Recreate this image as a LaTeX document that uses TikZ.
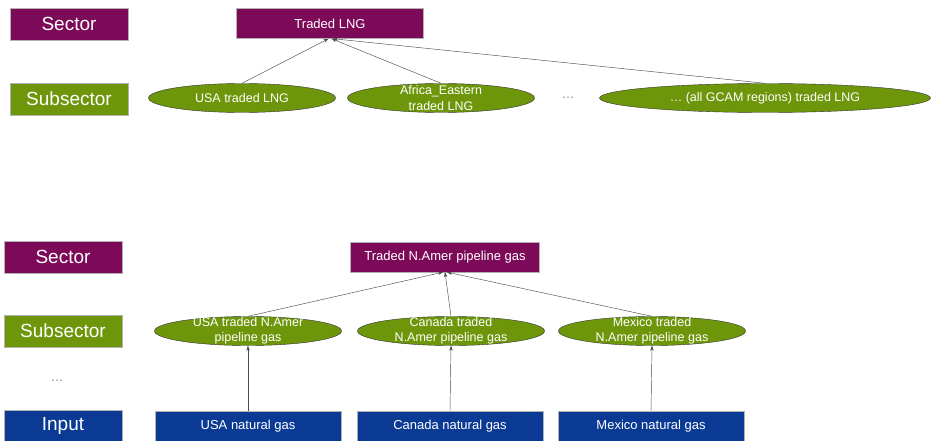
\documentclass[tikz,border=0pt]{standalone}
\usepackage{fontspec}
\setmainfont{Liberation Sans}
\usetikzlibrary{shapes.geometric, arrows.meta, positioning}

\definecolor{sectorcol}{HTML}{7D0A58}
\definecolor{subcol}{HTML}{6E960A}
\definecolor{inputcol}{HTML}{0B3A94}

\tikzset{
  rowlabel/.style={draw=gray!60, rectangle, text=white, minimum width=118pt, minimum height=32pt, inner sep=0pt, font=\fontsize{19}{22}\selectfont},
  sectorbox/.style={draw=gray!60, rectangle, fill=sectorcol, text=white, minimum height=30pt, inner sep=0pt, font=\fontsize{13}{16}\selectfont},
  subell/.style={draw=black!80, ellipse, fill=subcol, text=white, minimum width=187pt, minimum height=29pt, inner sep=0pt, font=\fontsize{12.5}{15.5}\selectfont},
  inputbox/.style={draw=gray!60, rectangle, fill=inputcol, text=white, minimum width=186pt, minimum height=30pt, inner sep=0pt, font=\fontsize{13}{16}\selectfont},
  intext/.style={text=white, align=center, inner sep=0pt, font=\fontsize{12.5}{15.5}\selectfont},
  flow/.style={-{Stealth[length=5pt, width=3.5pt]}, draw=black!70, line width=0.45pt}
}

\begin{document}
\begin{tikzpicture}[x=1pt, y=-1pt]
  \useasboundingbox (0,0) rectangle (931,441);

  % LNG trade
  \node [rowlabel, fill=sectorcol] (lsec) at (69,24) {Sector};
  \node [rowlabel, fill=subcol] (lsub) at (69,99) {Subsector};
  \node [sectorbox, minimum width=187pt] (lng) at (330,23.5) {Traded LNG};
  \node [subell] (usaL) at (242,98) {USA traded LNG};
  \node [subell, label={[intext]center:Africa\_Eastern\\traded LNG}] (afrL) at (441,98) {};
  \node [text=gray, font=\fontsize{13}{16}\selectfont] (ldots) at (568,98) {\dots};
  \node [subell, minimum width=331pt] (allL) at (765,98) {\dots{} (all GCAM regions) traded LNG};

  \draw [flow] (usaL.north) -- ([xshift=-1.5pt]lng.south);
  \draw [flow] (afrL.north) -- ([xshift=1.5pt]lng.south);
  \draw [flow] (allL.north) -- ([xshift=3pt]lng.south);

  % N.Amer pipeline trade
  \node [rowlabel, fill=sectorcol] (psec) at (63,257) {Sector};
  \node [rowlabel, fill=subcol] (psub) at (63,331) {Subsector};
  \node [text=gray, font=\fontsize{13}{16}\selectfont] (pdots) at (57,381) {\dots};
  \node [rowlabel, fill=inputcol] (pin) at (63,426) {Input};
  \node [sectorbox, minimum width=189pt] (pipe) at (445,257) {Traded N.Amer pipeline gas};

  \node [subell, label={[intext]center:USA traded N.Amer\\pipeline gas}] (usaP) at (248,331) {};
  \node [subell, label={[intext]center:Canada traded\\N.Amer pipeline gas}] (canP) at (451,331) {};
  \node [subell, label={[intext]center:Mexico traded\\N.Amer pipeline gas}] (mexP) at (652,331) {};

  \node [inputbox] (usaG) at (248,426) {USA natural gas};
  \node [inputbox] (canG) at (450,426) {Canada natural gas};
  \node [inputbox] (mexG) at (651,426) {Mexico natural gas};

  \draw [flow] (usaP.north) -- ([xshift=-2pt]pipe.south);
  \draw [flow] (canP.north) -- (pipe.south);
  \draw [flow] (mexP.north) -- ([xshift=2pt]pipe.south);

  \draw [flow] (usaG.north) -- (usaP.south);
  \draw [flow] (canG.north) -- (canP.south);
  \draw [flow] (mexG.north) -- (mexP.south);
\end{tikzpicture}
\end{document}
